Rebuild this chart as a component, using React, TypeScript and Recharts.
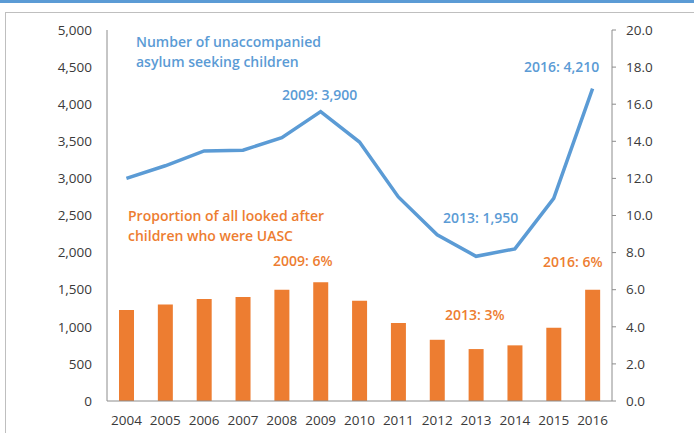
import {
    ComposedChart,
    Bar,
    Line,
    XAxis,
    YAxis,
} from "recharts";

const years = ["2004", "2005", "2006", "2007", "2008", "2009", "2010", "2011", "2012", "2013", "2014", "2015", "2016"];
const uascCount = [3000, 3170, 3370, 3380, 3550, 3900, 3490, 2750, 2240, 1950, 2050, 2730, 4210];
const uascShare = [4.9, 5.2, 5.5, 5.6, 6.0, 6.4, 5.4, 4.2, 3.3, 2.8, 3.0, 3.95, 6.0];
const leftTicks = [0, 500, 1000, 1500, 2000, 2500, 3000, 3500, 4000, 4500, 5000];
const rightTicks = [0, 2, 4, 6, 8, 10, 12, 14, 16, 18, 20];

const data = years.map((year, i) => ({
    year,
    count: uascCount[i],
    share: uascShare[i],
}));

const BLUE = "#5B9BD5";
const ORANGE = "#ED7D31";
const AXIS = "#8c8c8c";
const FONT = "'Open Sans', sans-serif";

const tickStyle = { fontSize: 13.5, fill: "#3a3a3a", fontFamily: FONT };

// free-floating annotations, as in the original slide
const notes = [
    { text: "Number of unaccompanied\nasylum seeking children", left: 136, top: 32, color: BLUE },
    { text: "2009: 3,900", left: 282, top: 85, color: BLUE },
    { text: "2016: 4,210", left: 524, top: 57, color: BLUE },
    { text: "2013: 1,950", left: 443, top: 208, color: BLUE },
    { text: "Proportion of all looked after\nchildren who were UASC", left: 128, top: 206, color: ORANGE },
    { text: "2009: 6%", left: 273, top: 251, color: ORANGE },
    { text: "2016: 6%", left: 543, top: 252, color: ORANGE },
    { text: "2013: 3%", left: 445, top: 305, color: ORANGE },
];

export default function App() {
    return (
        <div
            style={{
                position: "absolute",
                top: 0,
                left: 0,
                width: 694,
                height: 433,
                overflow: "hidden",
                background: "#fff",
                fontFamily: FONT,
            }}
        >
            <div style={{ position: "absolute", top: 0, left: 0, width: 694, height: 3, background: BLUE }} />
            <div
                style={{
                    position: "absolute",
                    top: 12,
                    left: 5,
                    width: 720,
                    height: 450,
                    border: "1px solid #bfbfbf",
                }}
            />
            <div style={{ position: "absolute", top: 0, left: 0 }}>
                <ComposedChart
                    width={694}
                    height={433}
                    data={data}
                    margin={{ top: 30, right: 2, left: 0, bottom: 2 }}
                    barSize={15}
                >
                    <XAxis
                        dataKey="year"
                        tick={tickStyle}
                        tickLine={false}
                        tickSize={6}
                        tickMargin={8}
                        height={30}
                        axisLine={{ stroke: AXIS }}
                        interval={0}
                    />
                    <YAxis
                        yAxisId="left"
                        domain={[0, 5000]}
                        ticks={leftTicks}
                        tickFormatter={(v: number) => v.toLocaleString("en-US")}
                        tick={tickStyle}
                        tickLine={false}
                        tickSize={6}
                        tickMargin={9}
                        width={107}
                        axisLine={{ stroke: AXIS }}
                        interval={0}
                    />
                    <YAxis
                        yAxisId="right"
                        orientation="right"
                        domain={[0, 20]}
                        ticks={rightTicks}
                        tickFormatter={(v: number) => v.toFixed(1)}
                        tick={{ ...tickStyle, textAnchor: "start" }}
                        tickLine={{ stroke: AXIS }}
                        tickSize={4}
                        tickMargin={10}
                        width={80}
                        axisLine={{ stroke: AXIS }}
                        interval={0}
                    />
                    <Bar
                        yAxisId="right"
                        dataKey="share"
                        fill={ORANGE}
                        isAnimationActive={false}
                    />
                    <Line
                        yAxisId="left"
                        type="linear"
                        dataKey="count"
                        stroke={BLUE}
                        strokeWidth={3.5}
                        dot={false}
                        activeDot={false}
                        isAnimationActive={false}
                    />
                </ComposedChart>
            </div>
            {notes.map((n) => (
                <div
                    key={n.text}
                    style={{
                        position: "absolute",
                        left: n.left,
                        top: n.top,
                        color: n.color,
                        fontSize: 14,
                        fontWeight: 600,
                        lineHeight: "20px",
                        whiteSpace: "pre",
                    }}
                >
                    {n.text}
                </div>
            ))}
        </div>
    );
}
